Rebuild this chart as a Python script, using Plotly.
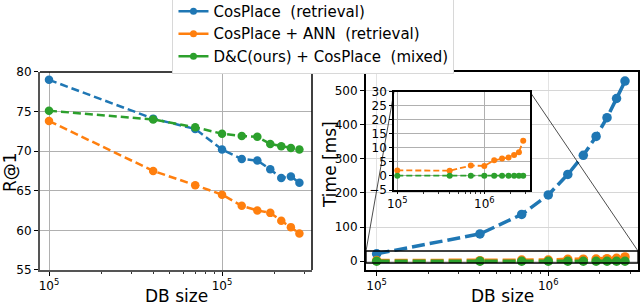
import plotly.graph_objects as go

# ---------------- data ----------------
db_size = [1.0e5, 4.0e5, 7.0e5, 1.0e6, 1.3e6, 1.6e6, 1.9e6, 2.2e6, 2.5e6, 2.8e6]
r1_cosplace = [79.0, 74.1, 72.8, 70.2, 69.0, 68.8, 67.7, 66.6, 66.8, 66.0]
r1_ann = [73.8, 67.5, 65.7, 64.5, 63.1, 62.5, 62.2, 61.2, 60.4, 59.6]
r1_dc = [75.1, 74.0, 73.0, 72.2, 71.9, 71.8, 70.9, 70.6, 70.4, 70.2]
time_cosplace = [22, 80, 137, 194, 254, 310, 365, 420, 476, 527]
time_ann = [2.0, 1.9, 3.7, 3.6, 5.6, 6.2, 6.6, 7.5, 8.5, 12.6]
time_dc = [0.1, 0.1, 0.1, 0.1, 0.1, 0.1, 0.1, 0.1, 0.1, 0.1]

names = ["CosPlace  (retrieval)", "CosPlace + ANN  (retrieval)", "D&C(ours) + CosPlace  (mixed)"]
colors = ["#1f77b4", "#ff7f0e", "#2ca02c"]

left_xticks = [1e5, 1e6]
left_xticktext = ["10<sup>5</sup>", "10<sup>5</sup>"]
right_xticktext = ["10<sup>5</sup>", "10<sup>6</sup>"]
minor_vals = [2e5, 3e5, 4e5, 5e5, 6e5, 7e5, 8e5, 9e5, 2e6, 3e6]

FONT = "DejaVu Sans"
W, H = 640, 306

fig = go.Figure()

# legend entries (solid line samples, as in the reference legend)
for name, c in zip(names, colors):
    fig.add_trace(go.Scatter(x=[None], y=[None], name=name, mode="lines+markers",
                             line=dict(color=c, width=2.5), marker=dict(color=c, size=7),
                             xaxis="x", yaxis="y", showlegend=True))

# left: R@1
for vals, name, c in zip([r1_cosplace, r1_ann, r1_dc], names, colors):
    fig.add_trace(go.Scatter(x=db_size, y=vals, name=name, mode="lines+markers",
                             line=dict(color=c, width=2.5, dash="8px,4px"),
                             marker=dict(color=c, size=8.5),
                             xaxis="x", yaxis="y", showlegend=False))

# right: time
for vals, c in zip([time_cosplace, time_ann, time_dc], colors):
    fig.add_trace(go.Scatter(x=db_size, y=vals, mode="lines+markers",
                             line=dict(color=c, width=3.5, dash="13px,5px"),
                             marker=dict(color=c, size=9.5),
                             xaxis="x2", yaxis="y2", showlegend=False))

# inset
for vals, c in zip([time_ann, time_dc], colors[1:]):
    fig.add_trace(go.Scatter(x=db_size, y=vals, mode="lines+markers",
                             line=dict(color=c, width=1.8, dash="6px,3px"),
                             marker=dict(color=c, size=6),
                             xaxis="x3", yaxis="y3", showlegend=False))

ydom = [0.118, 0.765]
y2range = [-25.2, 553.8]

tickfont = dict(family=FONT, size=12, color="black")
titlefont = dict(family=FONT, size=17, color="black")

common_x = dict(type="log", tickmode="array", ticks="outside", ticklen=4, tickwidth=1,
                tickcolor="black", tickfont=tickfont, showline=True, automargin=False,
                minor=dict(tickvals=minor_vals, ticks="outside", ticklen=2, tickcolor="#333", showgrid=False))

fig.update_layout(
    width=W, height=H,
    margin=dict(l=0, r=0, t=0, b=0, autoexpand=False),
    paper_bgcolor="white", plot_bgcolor="white",
    font=dict(family=FONT, color="black"),
    xaxis=dict(common_x, domain=[0.0625, 0.4875], range=[4.948, 6.52],
               tickvals=left_xticks, ticktext=left_xticktext,
               linecolor="#555", linewidth=2, mirror=False,
               showgrid=True, gridcolor="#b0b0b0", gridwidth=1, anchor="y"),
    yaxis=dict(domain=ydom, range=[55, 80], tickmode="array", tickvals=[55, 60, 65, 70, 75, 80],
               ticks="outside", ticklen=4, tickcolor="black", tickfont=tickfont, automargin=False,
               showline=True, linecolor="#555", linewidth=2, mirror=False,
               showgrid=True, gridcolor="#b0b0b0", gridwidth=1, zeroline=False, anchor="x"),
    xaxis2=dict(common_x, domain=[0.5719, 0.9969], range=[4.938, 6.523],
                tickvals=left_xticks, ticktext=right_xticktext,
                linecolor="black", linewidth=2, mirror=True,
                showgrid=True, gridcolor="#e3e3e3", gridwidth=1, anchor="y2"),
    yaxis2=dict(domain=ydom, range=y2range, tickmode="array", tickvals=[0, 100, 200, 300, 400, 500],
                ticks="outside", ticklen=4, tickcolor="black", tickfont=tickfont, automargin=False,
                showline=True, linecolor="black", linewidth=2, mirror=True,
                showgrid=True, gridcolor="#d6d6d6", gridwidth=1, zeroline=False, anchor="x2"),
    xaxis3=dict(common_x, domain=[0.6156, 0.8281], range=[4.962, 6.525],
                tickvals=left_xticks, ticktext=right_xticktext, ticklen=2,
                linecolor="black", linewidth=1.5, mirror=True,
                showgrid=True, gridcolor="#b0b0b0", gridwidth=1, anchor="y3"),
    yaxis3=dict(domain=[0.379, 0.700], range=[-5, 30], tickmode="array",
                tickvals=[-5, 0, 5, 10, 15, 20, 25, 30], automargin=False,
                ticks="outside", ticklen=3, tickcolor="black", tickfont=tickfont,
                showline=True, linecolor="black", linewidth=1.5, mirror=True,
                showgrid=True, gridcolor="#b0b0b0", gridwidth=1, zeroline=False, anchor="x3"),
    legend=dict(x=0.2695, y=1.02, xanchor="left", yanchor="top",
                bgcolor="white", bordercolor="#d8d8d8", borderwidth=1,
                font=dict(family=FONT, size=15, color="black"),
                itemwidth=30, tracegroupgap=0),
)

# axis titles as annotations (paper coordinates, from pixel positions)
def ann(text, px, py, angle=0):
    fig.add_annotation(text=text, x=px / W, y=1 - py / H, xref="paper", yref="paper",
                       xanchor="center", yanchor="middle", showarrow=False,
                       textangle=angle, font=titlefont)

ann("DB size", 176, 296)
ann("DB size", 502, 296)
ann("R@1", 10, 172, -90)
ann("Time [ms]", 330, 165, -90)

# left plot top/right spines (black)
fig.add_shape(type="line", xref="x domain", yref="y domain", x0=0, x1=1, y0=1, y1=1,
              line=dict(color="black", width=1.5))
fig.add_shape(type="line", xref="x domain", yref="y domain", x0=1, x1=1, y0=0, y1=1,
              line=dict(color="black", width=1.5))

# inset indicator rectangle in the right plot
fig.add_shape(type="rect", xref="x2 domain", yref="y2", x0=0, x1=1, y0=-5, y1=30,
              line=dict(color="black", width=1.3), fillcolor="rgba(0,0,0,0)", layer="above")

# connector lines (paper coordinates)
def y2_paper(v):
    return ydom[0] + (v - y2range[0]) / (y2range[1] - y2range[0]) * (ydom[1] - ydom[0])

fig.add_shape(type="line", xref="paper", yref="paper", x0=0.6156, y0=0.700, x1=0.5719, y1=y2_paper(30),
              line=dict(color="black", width=0.7))
fig.add_shape(type="line", xref="paper", yref="paper", x0=0.8281, y0=0.700, x1=0.9969, y1=y2_paper(30),
              line=dict(color="black", width=0.7))

fig.write_html("out.html", config={"displayModeBar": False},
               post_script="document.body.style.margin='0px';document.body.style.overflow='hidden';")
